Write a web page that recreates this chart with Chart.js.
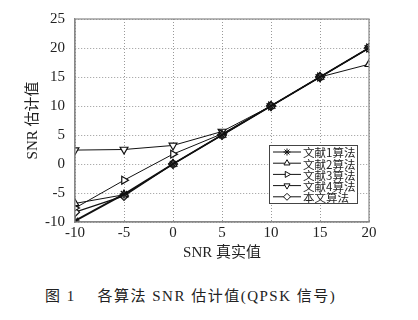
<!DOCTYPE html>
<html>
<head>
<meta charset="utf-8">
<script src="https://cdn.jsdelivr.net/npm/chart.js@4.4.0/dist/chart.umd.min.js"></script>
<style>
    html, body { margin: 0; padding: 0; background: #fff; }
    #wrap { position: relative; width: 418px; height: 320px; }
    #box { position: absolute; left: 0; top: 0; width: 418px; height: 262px; }
    #caption {
        position: absolute; left: 45px; top: 284px;
        font-family: "Liberation Serif", "Noto Sans CJK SC", serif;
        font-size: 15px; letter-spacing: 1.5px; color: #222; white-space: pre;
    }
</style>
</head>
<body>
<div id="wrap">
    <div id="box"><canvas id="snrChart"></canvas></div>
    <div id="caption">图 1　 各算法 SNR 估计值(QPSK 信号)</div>
</div>
<script>
// SNR 真实值 (dB)
const snrTrue = [-10, -5, 0, 5, 10, 15, 20];
const yTicks = [-10, -5, 0, 5, 10, 15, 20, 25];

// estimated values
const ref1 = [-9.8, -5.2, 0, 5, 10, 15, 20];
const ref2 = [-6.8, -5.3, 0, 5, 10, 15, 17.2];
const ref3 = [-7.6, -2.8, 1.7, 5.2, 10, 15, 20];
const ref4 = [2.4, 2.5, 3.2, 5.6, 10, 15, 20];
const ours = [-8.3, -5.5, 0, 5, 10, 15, 20];

const seriesNames = ['文献1算法', '文献2算法', '文献3算法', '文献4算法', '本文算法'];

const serif = '"Liberation Serif", "Noto Sans CJK SC", serif';

function makeSet(label, values, style, rotation, filled, width) {
    return {
        label: label,
        data: snrTrue.map((x, i) => ({ x: x, y: values[i] })),
        borderColor: '#111',
        backgroundColor: filled ? '#111' : '#fff',
        pointBorderColor: '#111',
        pointBackgroundColor: filled ? '#111' : '#fff',
        borderWidth: width,
        pointStyle: style,
        rotation: rotation,
        pointRadius: 4.5,
        pointBorderWidth: 1.2,
        tension: 0,
        fill: false
    };
}

// full box round the plot area
const plotFrame = {
    id: 'plotFrame',
    afterDatasetsDraw(chart) {
        const a = chart.chartArea;
        const ctx = chart.ctx;
        ctx.save();
        ctx.strokeStyle = '#888';
        ctx.lineWidth = 1.2;
        ctx.strokeRect(a.left, a.top, a.right - a.left, a.bottom - a.top);
        ctx.restore();
    }
};

// legend drawn inside the plot, like the original figure
const innerLegend = {
    id: 'innerLegend',
    afterDraw(chart) {
        const ctx = chart.ctx;
        const x0 = 269, y0 = 145, w = 88, h = 58;
        ctx.save();
        ctx.fillStyle = '#fff';
        ctx.fillRect(x0, y0, w, h);
        ctx.strokeStyle = '#444';
        ctx.lineWidth = 1;
        ctx.strokeRect(x0 + 0.5, y0 + 0.5, w, h);
        ctx.font = '11.5px "Noto Sans CJK SC", ' + serif;
        ctx.textBaseline = 'middle';
        chart.data.datasets.forEach((ds, i) => {
            const cy = y0 + 7 + i * 11.2;
            ctx.strokeStyle = '#111';
            ctx.lineWidth = 1;
            ctx.beginPath();
            ctx.moveTo(x0 + 4, cy);
            ctx.lineTo(x0 + 32, cy);
            ctx.stroke();
            ctx.fillStyle = ds.pointBackgroundColor;
            Chart.helpers.drawPoint(ctx, {
                pointStyle: ds.pointStyle,
                rotation: ds.rotation,
                radius: 3.5,
                borderWidth: 1
            }, x0 + 18, cy);
            ctx.fillStyle = '#222';
            ctx.fillText(ds.label, x0 + 34, cy + 1);
        });
        ctx.restore();
    }
};

new Chart(document.getElementById('snrChart').getContext('2d'), {
    type: 'line',
    data: {
        datasets: [
            makeSet(seriesNames[0], ref1, 'star', 0, true, 1.8),
            makeSet(seriesNames[1], ref2, 'triangle', 0, false, 1),
            makeSet(seriesNames[2], ref3, 'triangle', 90, false, 1),
            makeSet(seriesNames[3], ref4, 'triangle', 180, false, 1),
            makeSet(seriesNames[4], ours, 'rectRot', 0, false, 1.3)
        ]
    },
    options: {
        responsive: true,
        maintainAspectRatio: false,
        animation: false,
        layout: { padding: { top: 10, right: 49, left: 24, bottom: 0 } },
        plugins: {
            legend: { display: false },
            tooltip: { enabled: false }
        },
        scales: {
            x: {
                type: 'linear',
                min: -10,
                max: 20,
                afterBuildTicks: (scale) => { scale.ticks = snrTrue.map(v => ({ value: v })); },
                ticks: { color: '#222', font: { family: serif, size: 15 }, padding: 2 },
                grid: { color: '#999', drawTicks: false, tickLength: 0 },
                border: { color: '#888', width: 1.2, dash: [1, 2] },
                title: {
                    display: true,
                    text: 'SNR 真实值',
                    color: '#222',
                    font: { family: serif, size: 15 },
                    padding: { top: 0, bottom: 0 }
                }
            },
            y: {
                type: 'linear',
                min: -10,
                max: 25,
                afterBuildTicks: (scale) => { scale.ticks = yTicks.map(v => ({ value: v })); },
                afterFit: (scale) => { scale.width = 51; },
                ticks: { color: '#222', font: { family: serif, size: 15 }, padding: 10 },
                grid: { color: '#999', drawTicks: false, tickLength: 0 },
                border: { color: '#888', width: 1.2, dash: [1, 2] },
                title: {
                    display: true,
                    text: 'SNR 估计值',
                    color: '#222',
                    font: { family: serif, size: 15 },
                    padding: { top: 0, bottom: 0 }
                }
            }
        }
    },
    plugins: [plotFrame, innerLegend]
});
</script>
</body>
</html>
